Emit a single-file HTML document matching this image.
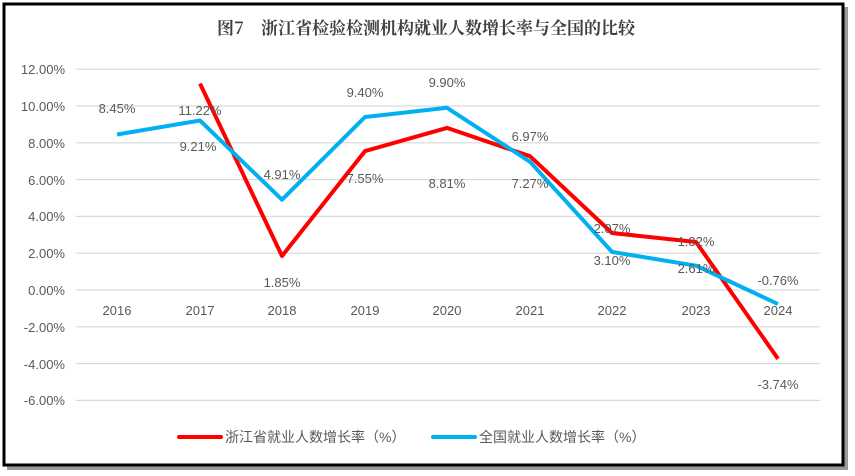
<!DOCTYPE html>
<html><head><meta charset="utf-8"><style>
body{margin:0;background:#fff;width:855px;height:476px;overflow:hidden}
svg{display:block}
text{font-family:"Liberation Sans","Noto Sans CJK SC",sans-serif;fill:#595959}
</style></head><body>
<svg width="855" height="476" xmlns="http://www.w3.org/2000/svg">
<rect x="7" y="7" width="841" height="463" fill="#9a9a9a"/>
<rect x="4" y="4" width="839" height="461" fill="#fff" stroke="#000" stroke-width="3"/>
<text x="426" y="34" text-anchor="middle" font-family="'Noto Serif CJK SC',serif" font-weight="bold" font-size="17" style="fill:#404040;font-family:'Noto Serif CJK SC',serif">图7　浙江省检验检测机构就业人数增长率与全国的比较</text>
<g stroke="#d9d9d9" stroke-width="1.2">
<line x1="76" x2="820" y1="69.2" y2="69.2"/><line x1="76" x2="820" y1="106" y2="106"/>
<line x1="76" x2="820" y1="142.8" y2="142.8"/><line x1="76" x2="820" y1="179.6" y2="179.6"/>
<line x1="76" x2="820" y1="216.4" y2="216.4"/><line x1="76" x2="820" y1="253.2" y2="253.2"/>
<line x1="76" x2="820" y1="290" y2="290"/><line x1="76" x2="820" y1="326.8" y2="326.8"/>
<line x1="76" x2="820" y1="363.6" y2="363.6"/><line x1="76" x2="820" y1="400.4" y2="400.4"/>
</g>
<g font-size="13" text-anchor="end">
<text x="65" y="74">12.00%</text><text x="65" y="111">10.00%</text><text x="65" y="148">8.00%</text>
<text x="65" y="185">6.00%</text><text x="65" y="221">4.00%</text><text x="65" y="258">2.00%</text>
<text x="65" y="295">0.00%</text><text x="65" y="332">-2.00%</text><text x="65" y="369">-4.00%</text>
<text x="65" y="405">-6.00%</text>
</g>
<g font-size="13" text-anchor="middle">
<text x="117" y="315">2016</text><text x="200" y="315">2017</text><text x="282" y="315">2018</text>
<text x="365" y="315">2019</text><text x="447" y="315">2020</text><text x="530" y="315">2021</text>
<text x="612" y="315">2022</text><text x="696" y="315">2023</text><text x="778" y="315">2024</text>
</g>
<polyline fill="none" stroke="#ff0000" stroke-width="4" stroke-linejoin="round" points="200,83.6 282,256 365,151.1 447,127.9 530,156.2 612,233 696,242 778,358.8"/>
<polyline fill="none" stroke="#00b0f0" stroke-width="4" stroke-linejoin="round" points="117,134.5 200,120.5 282,199.7 365,117 447,107.8 530,161.8 612,251.9 696,265.7 778,304"/>
<g font-size="13" text-anchor="middle">
<text x="117" y="113">8.45%</text><text x="200" y="115">11.22%</text><text x="198" y="151">9.21%</text>
<text x="282" y="179">4.91%</text><text x="282" y="287">1.85%</text><text x="365" y="97">9.40%</text>
<text x="365" y="183">7.55%</text><text x="447" y="87">9.90%</text><text x="447" y="188">8.81%</text>
<text x="530" y="141">6.97%</text><text x="530" y="188">7.27%</text><text x="612" y="233">2.07%</text>
<text x="612" y="265">3.10%</text><text x="696" y="246">1.32%</text><text x="696" y="273">2.61%</text>
<text x="778" y="285">-0.76%</text><text x="778" y="389">-3.74%</text>
</g>
<line x1="179" x2="221" y1="437" y2="437" stroke="#ff0000" stroke-width="4" stroke-linecap="round"/>
<text x="225" y="442" font-size="14">浙江省就业人数增长率（%）</text>
<line x1="433" x2="475" y1="437" y2="437" stroke="#00b0f0" stroke-width="4" stroke-linecap="round"/>
<text x="479" y="442" font-size="14">全国就业人数增长率（%）</text>
</svg>
</body></html>
